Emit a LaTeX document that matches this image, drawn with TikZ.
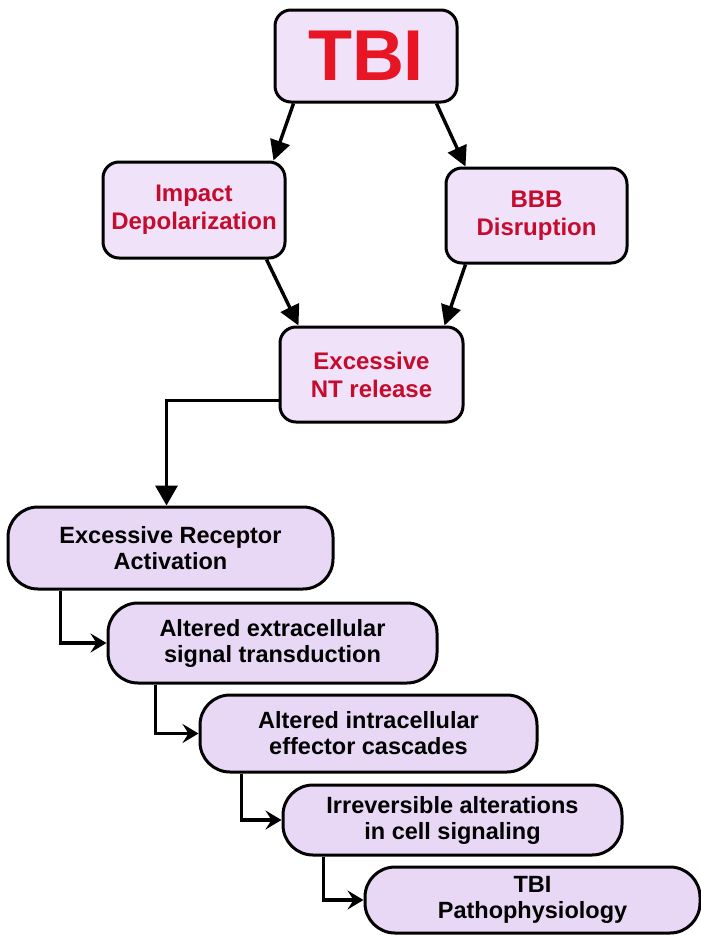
\documentclass[tikz,border=0pt]{standalone}
\usepackage{fontspec}
\setmainfont{Liberation Sans}
\usetikzlibrary{arrows.meta}
\definecolor{boxfill}{RGB}{240,226,249}
\definecolor{pillfill}{RGB}{232,216,246}
\definecolor{tbired}{RGB}{232,22,36}
\definecolor{labelred}{RGB}{196,12,46}
\begin{document}
\begin{tikzpicture}[x=1pt, y=-1pt,
        topbox/.style={draw, line width=3pt, fill=boxfill, rounded corners=16pt, inner sep=0pt,
            align=center, text=labelred, font=\fontsize{24}{28}\selectfont\bfseries},
        cascade/.style={draw, line width=3pt, fill=pillfill, rounded corners=30pt, inner sep=0pt,
            align=center, font=\fontsize{23.5}{26}\selectfont\bfseries},
        bigarrow/.style={line width=3.4pt, -{Triangle[length=20pt,width=20pt]}},
        elbow/.style={line width=3.4pt, -{Stealth[length=16pt,width=19pt,inset=6pt]}}]
        \useasboundingbox (0,0) rectangle (701,935);

        % upper boxes
        \node[topbox, minimum width=182pt, minimum height=92pt, text=tbired,
            font=\fontsize{72}{80}\selectfont\bfseries] (tbi) at (366,56) {TBI};
        \node[topbox, minimum width=182pt, minimum height=96pt] (impact) at (194,210) {Impact\\Depolarization};
        \node[topbox, minimum width=181pt, minimum height=95pt] (bbb) at (536.5,215.5) {BBB\\Disruption};
        \node[topbox, minimum width=183pt, minimum height=95pt] (nt) at (371.5,374.5) {Excessive\\NT release};

        % cascade
        \node[cascade, minimum width=325pt, minimum height=82pt] (receptor) at (170.5,548) {Excessive Receptor\\Activation};
        \node[cascade, minimum width=329pt, minimum height=80pt] (extra) at (272.5,643) {Altered extracellular\\signal transduction};
        \node[cascade, minimum width=337pt, minimum height=77pt] (intra) at (368.5,733.5) {Altered intracellular\\effector cascades};
        \node[cascade, minimum width=339pt, minimum height=70pt] (irrev) at (452.5,820) {Irreversible alterations\\in cell signaling};
        \node[cascade, minimum width=335pt, minimum height=66pt] (patho) at (532.5,900) {TBI\\Pathophysiology};

        \draw[bigarrow] ([xshift=20pt]tbi.south west) -- ([xshift=-13pt]impact.north east);
        \draw[bigarrow] ([xshift=-22pt]tbi.south east) -- ([xshift=21pt]bbb.north west);
        \draw[bigarrow] ([xshift=-20pt]impact.south east) -- ([xshift=20pt]nt.north west);
        \draw[bigarrow] ([xshift=21pt]bbb.south west) -- ([xshift=-20pt]nt.north east);
        \draw[line width=3.4pt, -{Triangle[length=20pt,width=22pt]}] ([yshift=-26pt]nt.west) -| ([xshift=-4pt]receptor.north);

        \draw[elbow] ([xshift=54pt]receptor.south west) |- (extra.west);
        \draw[elbow] ([xshift=49pt]extra.south west) |- (intra.west);
        \draw[elbow] ([xshift=43pt]intra.south west) |- (irrev.west);
        \draw[elbow] ([xshift=42pt]irrev.south west) |- (patho.west);
    \end{tikzpicture}
\end{document}
